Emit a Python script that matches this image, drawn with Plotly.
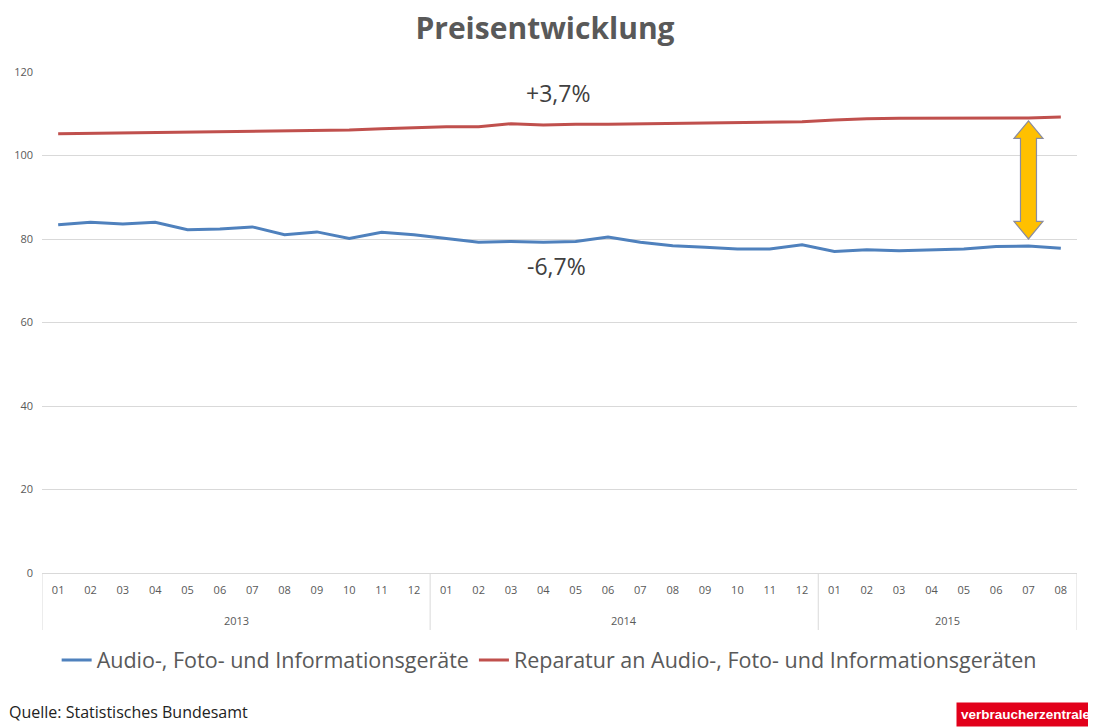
import plotly.graph_objects as go

years = ["2013", "2014", "2015"]
months_per_year = [12, 12, 8]
month_labels = [f"{m:02d}" for n in months_per_year for m in range(1, n + 1)]

audio = [83.4, 84.0, 83.6, 84.0, 82.2, 82.4, 82.9, 81.0, 81.7, 80.1, 81.6, 81.0,
         80.1, 79.2, 79.4, 79.2, 79.4, 80.5, 79.2, 78.4, 78.0, 77.6, 77.6, 78.6,
         77.0, 77.4, 77.2, 77.4, 77.6, 78.2, 78.3, 77.8]
repair = [105.2, 105.3, 105.4, 105.6, 105.7, 105.7, 105.8, 106.0, 106.1, 106.1, 106.4, 106.6,
          106.9, 106.9, 107.6, 107.3, 107.5, 107.5, 107.6, 107.7, 107.8, 107.9, 108.0, 108.1,
          108.5, 108.8, 108.9, 108.9, 108.9, 108.9, 109.0, 109.2]

names = ["Audio-, Foto- und Informationsgeräte",
         "Reparatur an Audio-, Foto- und Informationsgeräten"]
colors = ["#4F81BD", "#C0504D"]
change_labels = ["-6,7%", "+3,7%"]

FONT = "Open Sans"
# the page has an 8px body margin; size the figure so it fits the 1096x727 window
W, H = 1088, 719
L, R, T, B = 34, 19, 64, 154
plot_w = W - L - R
plot_h = H - T - B

n = len(month_labels)
xs = list(range(n))

fig = go.Figure()
for vals, name, col in zip([audio, repair], names, colors):
    fig.add_trace(go.Scatter(x=xs, y=vals, name=name, mode="lines",
                             line=dict(color=col, width=3)))

fig.update_layout(
    width=W, height=H,
    margin=dict(l=L, r=R, t=T, b=B, autoexpand=False),
    paper_bgcolor="white", plot_bgcolor="white",
    font=dict(family=FONT, color="#595959"),
    title=dict(text="<b>Preisentwicklung</b>", x=(545 - 8) / W, xanchor="center",
               y=1 - 20 / H, yanchor="middle",
               font=dict(size=30, color="#595959", family=FONT)),
    showlegend=True,
    legend=dict(orientation="h", x=0.49, xanchor="center", y=-87 / plot_h, yanchor="middle",
                font=dict(size=21.5, color="#595959", family=FONT), itemwidth=30),
    yaxis=dict(range=[0, 120], dtick=20, showgrid=True, gridcolor="#D9D9D9", gridwidth=1,
               zeroline=False, showline=False, ticks="", tickfont=dict(size=11, color="#595959"),
               ticklabelstandoff=8),
    xaxis=dict(range=[-0.5, n - 0.5], tickmode="array", tickvals=xs, ticktext=month_labels,
               showline=True, linecolor="#D9D9D9", linewidth=1, showgrid=False, zeroline=False,
               ticks="outside", ticklen=7, tickcolor="rgba(0,0,0,0)",
               tickfont=dict(size=11, color="#595959")),
)

# year labels and group dividers
start = 0
bounds = [0]
for yr, cnt in zip(years, months_per_year):
    fig.add_annotation(x=start + (cnt - 1) / 2, xref="x", y=-47 / plot_h, yref="paper",
                       text=yr, showarrow=False, yanchor="middle",
                       font=dict(size=11, color="#595959", family=FONT))
    start += cnt
    bounds.append(start)
for b in bounds:
    fig.add_shape(type="line", xref="x", yref="paper", x0=b - 0.5, x1=b - 0.5,
                  y0=0, y1=-57 / plot_h, line=dict(color="#D9D9D9", width=1))

# change annotations
fig.add_annotation(x=(558 - 8 - L) / plot_w, xref="paper", y=115.0, yref="y",
                   text=change_labels[1], showarrow=False,
                   font=dict(size=23, color="#404040", family=FONT))
fig.add_annotation(x=(556 - 8 - L) / plot_w, xref="paper", y=73.5, yref="y",
                   text=change_labels[0], showarrow=False,
                   font=dict(size=23, color="#404040", family=FONT))

# double arrow between series near the end (at the 2015-07 position)
ai = n - 2
cx = (ai + 0.5) / n
hs = 8 / plot_w
hh = 14.5 / plot_w
top = repair[ai] - 0.7
bot = audio[ai] + 1.7
hl = 4.2
path = (f"M {cx},{top} L {cx+hh},{top-hl} L {cx+hs},{top-hl} L {cx+hs},{bot+hl} "
        f"L {cx+hh},{bot+hl} L {cx},{bot} L {cx-hh},{bot+hl} L {cx-hs},{bot+hl} "
        f"L {cx-hs},{top-hl} L {cx-hh},{top-hl} Z")
fig.add_shape(type="path", path=path, xref="paper", yref="y",
              fillcolor="#FFC000", line=dict(color="#8A8CA0", width=1.2))

# source and logo
fig.add_annotation(x=0, xref="paper", xshift=-L, y=-139 / plot_h, yref="paper",
                   xanchor="left", yanchor="middle", text="Quelle: Statistisches Bundesamt",
                   showarrow=False, borderpad=0,
                   font=dict(size=16, color="#222222", family=FONT))
fig.add_annotation(x=1, xref="paper", xshift=R, y=-154 / plot_h, yref="paper",
                   xanchor="right", yanchor="bottom", text="<b>verbraucherzentrale</b>",
                   showarrow=False, bgcolor="#E2001A", borderpad=4,
                   font=dict(size=13.5, color="white", family="Liberation Sans"))

fig.write_html("out.html")
